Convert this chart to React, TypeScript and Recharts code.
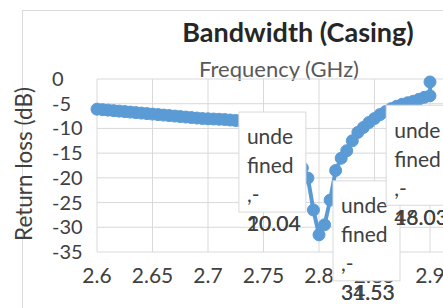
import React from "react";
import { CartesianGrid, LabelList, Line, LineChart, XAxis, YAxis } from "recharts";

const freqs = [
  2.6, 2.605, 2.61, 2.615, 2.62, 2.625, 2.63, 2.635, 2.64, 2.645,
  2.65, 2.655, 2.66, 2.665, 2.67, 2.675, 2.68, 2.685, 2.69, 2.695,
  2.7, 2.705, 2.71, 2.715, 2.72, 2.725, 2.73, 2.735, 2.74, 2.745,
  2.75, 2.755, 2.76, 2.765, 2.77, 2.775, 2.78, 2.785, 2.79, 2.795,
  2.8, 2.805, 2.81, 2.815, 2.82, 2.825, 2.83, 2.835, 2.84, 2.845,
  2.85, 2.855, 2.86, 2.865, 2.87, 2.875, 2.88, 2.885, 2.89, 2.895,
  2.9, 2.9,
];
const returnLoss = [
  -6.1, -6.2, -6.3, -6.4, -6.5, -6.6, -6.7, -6.8, -6.9, -7.0,
  -7.1, -7.2, -7.3, -7.4, -7.5, -7.6, -7.7, -7.8, -7.9, -8.0,
  -8.05, -8.1, -8.15, -8.2, -8.3, -8.4, -8.5, -8.6, -8.7, -8.9,
  -9.1, -9.4, -9.8, -10.5, -11.6, -13.2, -15.5, -18.0, -20.04, -26.5,
  -31.53, -29.5, -24.5, -18.5, -16.03, -14.5, -12.5, -10.8, -9.8, -8.8,
  -8.0, -7.2, -6.6, -6.0, -5.5, -5.1, -4.8, -4.5, -4.1, -3.7,
  -3.4, -0.6,
];

const xTicks = [2.6, 2.65, 2.7, 2.75, 2.8, 2.85, 2.9, 2.95];
const yTicks = [0, -5, -10, -15, -20, -25, -30, -35];

// Excel data labels (series name came out as "undefined")
const labelFreqs = [2.79, 2.8, 2.82];
const labelLines = ["unde", "fined", ",-"];
const labelValues = ["20.04", "31.53", "16.03"];
const labelGhosts = ["10.04", "34.53", "48.03"];

const FONT = "Lato, 'Open Sans', sans-serif";
const BLUE = "#5B9BD5";
const GRID = "#d9d9d9";

const data = freqs.map((f, i) => {
  const li = labelFreqs.indexOf(f);
  return { f, rl: returnLoss[i], lbl: li >= 0 && (i === 0 || freqs[i - 1] !== f) ? li : undefined };
});

// box placement relative to the labelled point
const boxOffsets = [
  { dx: -69, dy: -66 },
  { dx: 14, dy: -54 },
  { dx: 45, dy: -53 },
];

function DataBox(props: any) {
  const { x, y, value } = props;
  if (value === undefined || value === null) return null;
  const o = boxOffsets[value];
  const bx = x + o.dx;
  const by = y + o.dy;
  const tx = bx + 8;
  return (
    <g>
      <rect x={bx} y={by} width={value === 2 ? 90 : 67} height={100} fill="#fff" stroke={GRID} strokeWidth={1} />
      {labelLines.map((t, k) => (
        <text key={k} x={tx} y={by + 25 + k * 29} dy="0.35em" fontFamily={FONT} fontSize={21} fill="#404040">
          {t}
        </text>
      ))}
      <text x={tx} y={by + 112} dy="0.35em" fontFamily={FONT} fontSize={21} fill="#404040">
        {labelGhosts[value]}
      </text>
      <text x={tx} y={by + 112} dy="0.35em" fontFamily={FONT} fontSize={21} fill="#404040">
        {labelValues[value]}
      </text>
    </g>
  );
}

function YTick({ y, payload }: any) {
  return (
    <text x={52} y={y} dy="0.35em" textAnchor="start" fontFamily={FONT} fontSize={20} fill="#404040">
      {payload.value}
    </text>
  );
}

function XTick({ x, y, payload }: any) {
  return (
    <text x={x} y={y} dy={23} textAnchor="middle" fontFamily={FONT} fontSize={21} fill="#404040">
      {payload.value}
    </text>
  );
}

export default function App() {
  return (
    <div style={{ position: "absolute", left: 0, top: 0, width: 443, height: 308, overflow: "hidden", background: "#fff" }}>
      <div style={{ position: "absolute", left: 22, top: 10, width: 600, height: 400, borderTop: `1px solid ${GRID}`, borderLeft: `1px solid ${GRID}` }} />
      <div style={{ position: "absolute", left: 0, top: 15, width: 596, textAlign: "center", fontFamily: FONT, fontWeight: 700, fontSize: 27, color: "#262626" }}>
        Bandwidth (Casing)
      </div>
      <div style={{ position: "absolute", left: 0, top: 55, width: 558, textAlign: "center", fontFamily: FONT, fontSize: 22, color: "#595959" }}>
        Frequency (GHz)
      </div>
      <div style={{ position: "absolute", left: 23, top: 164, transform: "translate(-50%, -50%) rotate(-90deg)", whiteSpace: "nowrap", fontFamily: FONT, fontSize: 22.5, color: "#404040" }}>
        Return loss (dB)
      </div>
      <div style={{ position: "absolute", left: 0, top: 0 }}>
        <LineChart width={500} height={308} data={data} margin={{ top: 79, right: 14.5, left: 52, bottom: 26 }}>
          <CartesianGrid stroke={GRID} strokeWidth={1} />
          <XAxis type="number" dataKey="f" domain={[2.6, 2.95]} ticks={xTicks} tick={<XTick />} axisLine={false} tickLine={false} height={30} />
          <YAxis domain={[-35, 0]} ticks={yTicks} tick={<YTick />} axisLine={false} tickLine={false} width={45} />
          <Line
            type="linear"
            dataKey="rl"
            stroke={BLUE}
            strokeWidth={4}
            dot={{ r: 6, fill: BLUE, stroke: BLUE, strokeWidth: 1 }}
            isAnimationActive={false}
          >
            <LabelList dataKey="lbl" content={<DataBox />} />
          </Line>
        </LineChart>
      </div>
    </div>
  );
}
